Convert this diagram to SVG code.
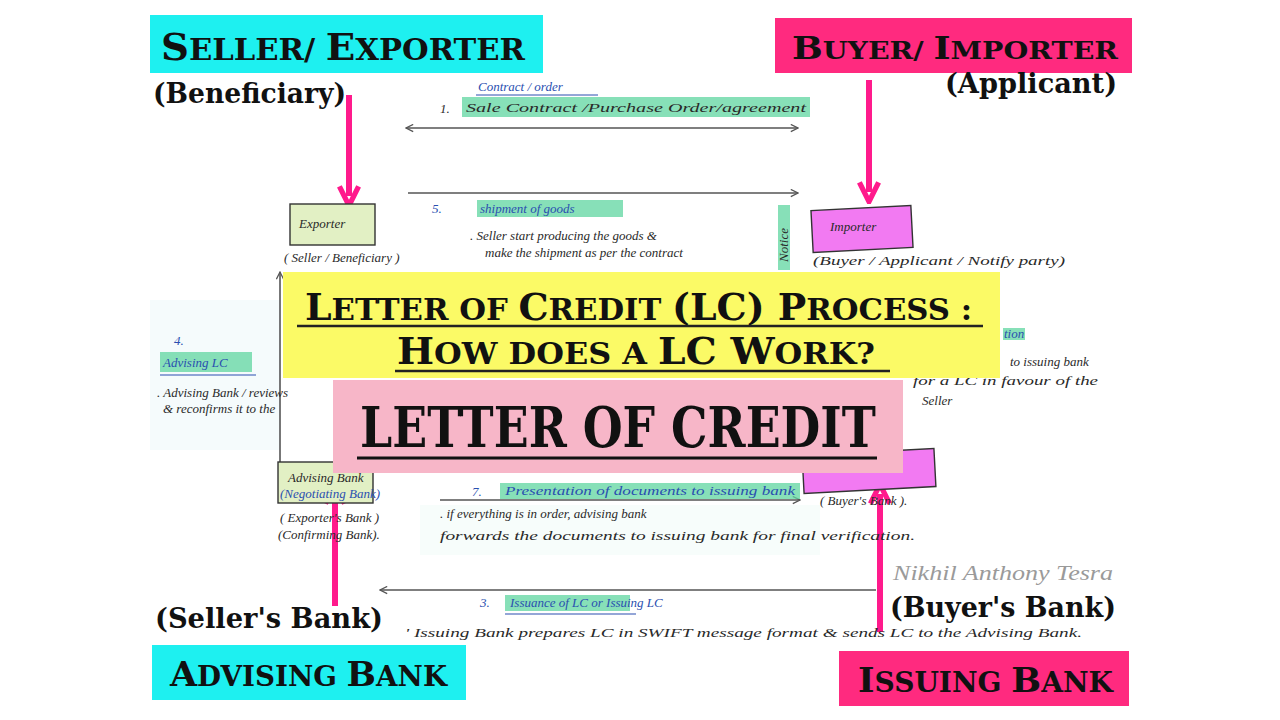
<svg xmlns="http://www.w3.org/2000/svg" width="1280" height="720" viewBox="0 0 1280 720">
<defs>
<style>
.hand{font-family:"Liberation Serif",serif;font-style:italic;fill:#2a2a2a;font-size:13px}
.blue{fill:#2a4fb0}
.hl{fill:#5fd6a0;opacity:0.75}
.pen{stroke:#555;stroke-width:1.6;fill:none}
.slab{font-family:"DejaVu Serif",serif;font-weight:bold;fill:#111}
.paren{font-family:"DejaVu Serif",serif;font-weight:bold;fill:#111;font-size:28px}
.pk{stroke:#ff1a8c;stroke-width:6;fill:none}
</style>
<marker id="open" viewBox="0 0 10 10" refX="9" refY="5" markerWidth="9" markerHeight="9" orient="auto-start-reverse" markerUnits="userSpaceOnUse">
<path d="M1,1 L9,5 L1,9" fill="none" stroke="#555" stroke-width="1.4"/>
</marker>
<marker id="pkhead" viewBox="0 0 10 10" refX="5" refY="5" markerWidth="24" markerHeight="24" orient="auto" markerUnits="userSpaceOnUse">
<path d="M1,1 L9,5 L1,9" fill="none" stroke="#ff1a8c" stroke-width="2.2"/>
</marker>
</defs>
<rect width="1280" height="720" fill="#ffffff"/>
<!-- soft watercolor tint -->
<rect x="150" y="300" width="130" height="150" fill="#eef9fa" opacity="0.6"/>
<rect x="420" y="505" width="400" height="50" fill="#f2fbf8" opacity="0.6"/>

<!-- connectors (hand-drawn) -->
<g id="connectors">
<line class="pen" x1="406" y1="128" x2="798" y2="128" marker-start="url(#open)" marker-end="url(#open)"/>
<line class="pen" x1="408" y1="193" x2="798" y2="193" marker-end="url(#open)"/>
<line class="pen" x1="280" y1="465" x2="280" y2="272" marker-end="url(#open)"/>
<line class="pen" x1="440" y1="500" x2="800" y2="500" marker-end="url(#open)"/>
<line class="pen" x1="876" y1="590" x2="380" y2="590" marker-end="url(#open)"/>
<!-- pink arrows -->
<line class="pk" x1="349" y1="95" x2="349" y2="196" marker-end="url(#pkhead)"/>
<line class="pk" x1="869" y1="80" x2="869" y2="192" marker-end="url(#pkhead)"/>
<line class="pk" x1="335" y1="606" x2="335" y2="494" marker-end="url(#pkhead)"/>
<line class="pk" x1="880" y1="632" x2="880" y2="494" marker-end="url(#pkhead)"/>
</g>

<!-- hand-written annotations -->
<g id="step1">
<text class="hand blue" x="478" y="91" font-size="12">Contract / order</text>
<line x1="476" y1="95" x2="598" y2="95" stroke="#2a4fb0" stroke-width="1"/>
<text class="hand" x="440" y="113" font-size="10">1.</text>
<rect class="hl" x="462" y="97" width="348" height="20"/>
<text class="hand" x="466" y="112" font-size="15" textLength="340" lengthAdjust="spacingAndGlyphs">Sale Contract /Purchase Order/agreement</text>
</g>
<g id="step5">
<text class="hand blue" x="432" y="213" font-size="10">5.</text>
<rect class="hl" x="477" y="200" width="146" height="17"/>
<text class="hand blue" x="480" y="213" font-size="14">shipment of goods</text>
<text class="hand" x="470" y="240" font-size="13">. Seller start producing the goods &amp;</text>
<text class="hand" x="485" y="257" font-size="13">make the shipment    as per the contract</text>
<rect class="hl" x="778" y="205" width="12" height="65"/>
<text class="hand" x="0" y="0" font-size="11" transform="translate(788,262) rotate(-90)">Notice</text>
</g>
<g id="exporter">
<rect x="290" y="204" width="85" height="41" fill="#e2f0c4" stroke="#333" stroke-width="1.4"/>
<text class="hand" x="299" y="228" font-size="15">Exporter</text>
<text class="hand" x="284" y="262" font-size="14">( Seller / Beneficiary )</text>
</g>
<g id="importer">
<rect x="812" y="208" width="100" height="42" fill="#f27af2" stroke="#333" stroke-width="1.4" transform="rotate(-3 862 229)"/>
<text class="hand" x="830" y="231" font-size="16">Importer</text>
<text class="hand" x="813" y="265" font-size="15" textLength="252" lengthAdjust="spacingAndGlyphs">(Buyer / Applicant / Notify party)</text>
</g>
<g id="step4">
<text class="hand blue" x="174" y="345" font-size="10">4.</text>
<rect class="hl" x="160" y="352" width="92" height="20"/>
<line x1="160" y1="375" x2="256" y2="375" stroke="#2a4fb0" stroke-width="1.2"/>
<text class="hand blue" x="163" y="367" font-size="14">Advising LC</text>
<text class="hand" x="157" y="397" font-size="13">. Advising Bank / reviews</text>
<text class="hand" x="163" y="413" font-size="13">&amp; reconfirms   it to the</text>
</g>
<g id="step2">
<rect class="hl" x="1003" y="328" width="22" height="12"/>
<text class="hand blue" x="1004" y="338" font-size="11">tion</text>
<text class="hand" x="1010" y="366" font-size="13">to issuing bank</text>
<text class="hand" x="913" y="385" font-size="12" textLength="185" lengthAdjust="spacingAndGlyphs">for a LC in favour of the</text>
<text class="hand" x="922" y="405" font-size="11">Seller</text>
</g>
<g id="advising-bank">
<rect x="278" y="462" width="95" height="41" fill="#e2f0c4" stroke="#333" stroke-width="1.4"/>
<text class="hand" x="288" y="482" font-size="14">Advising Bank</text>
<text class="hand blue" x="280" y="498" font-size="12">(Negotiating Bank)</text>
<text class="hand" x="280" y="522" font-size="14">( Exporter's Bank )</text>
<text class="hand" x="278" y="539" font-size="14">(Confirming Bank).</text>
</g>
<g id="step7">
<text class="hand blue" x="472" y="496" font-size="12">7.</text>
<rect class="hl" x="500" y="483" width="300" height="16"/>
<text class="hand blue" x="505" y="495" font-size="13" textLength="290" lengthAdjust="spacingAndGlyphs">Presentation of documents to issuing bank</text>
<text class="hand" x="440" y="518" font-size="13">. if everything is in order, advising bank</text>
<text class="hand" x="440" y="540" font-size="14" textLength="475" lengthAdjust="spacingAndGlyphs">forwards  the documents to issuing bank for final verification.</text>
</g>
<g id="issuing-bank">
<rect x="803" y="452" width="132" height="38" fill="#f27af2" stroke="#333" stroke-width="1.4" transform="rotate(-3 869 471)"/>
<text class="hand" x="820" y="505" font-size="14">( Buyer's Bank ).</text>
</g>
<g id="step3">
<text class="hand blue" x="480" y="607" font-size="11">3.</text>
<rect class="hl" x="505" y="595" width="125" height="16"/>
<line x1="505" y1="614" x2="636" y2="614" stroke="#2a4fb0" stroke-width="1.2"/>
<text class="hand blue" x="510" y="607" font-size="12">Issuance of LC or Issuing LC</text>
<text class="hand" x="405" y="637" font-size="14" textLength="677" lengthAdjust="spacingAndGlyphs">' Issuing Bank prepares LC in SWIFT message format &amp; sends LC to the Advising Bank.</text>
</g>
<text x="893" y="580" font-family="Liberation Serif,serif" font-style="italic" font-size="20" fill="#9a9a9a" textLength="220" lengthAdjust="spacingAndGlyphs">Nikhil Anthony Tesra</text>

<!-- overlay labels -->
<g id="seller-exporter">
<rect x="150" y="15" width="393" height="58" fill="#1ef0f0"/>
<text class="slab" x="161" y="60" textLength="364" lengthAdjust="spacingAndGlyphs"><tspan font-size="38">S</tspan><tspan font-size="30">ELLER/ </tspan><tspan font-size="38">E</tspan><tspan font-size="30">XPORTER</tspan></text>
<text class="paren" x="153" y="103" textLength="193" lengthAdjust="spacingAndGlyphs">(Beneficiary)</text>
</g>
<g id="buyer-importer">
<rect x="775" y="18" width="357" height="55" fill="#ff2a7f"/>
<text class="slab" x="792" y="59" textLength="326" lengthAdjust="spacingAndGlyphs"><tspan font-size="32">B</tspan><tspan font-size="25">UYER/ </tspan><tspan font-size="32">I</tspan><tspan font-size="25">MPORTER</tspan></text>
<text class="paren" x="945" y="93" textLength="172" lengthAdjust="spacingAndGlyphs">(Applicant)</text>
</g>
<g id="title">
<rect x="283" y="272" width="717" height="106" fill="#fbfa66"/>
<text class="slab" x="305" y="320" textLength="667" lengthAdjust="spacingAndGlyphs"><tspan font-size="37">L</tspan><tspan font-size="30">ETTER OF </tspan><tspan font-size="37">C</tspan><tspan font-size="30">REDIT </tspan><tspan font-size="37">(LC) P</tspan><tspan font-size="30">ROCESS :</tspan></text>
<line x1="297" y1="326" x2="983" y2="326" stroke="#222" stroke-width="2.5"/>
<text class="slab" x="397" y="364" textLength="478" lengthAdjust="spacingAndGlyphs"><tspan font-size="37">H</tspan><tspan font-size="30">OW  DOES A </tspan><tspan font-size="37">LC W</tspan><tspan font-size="30">ORK?</tspan></text>
<line x1="395" y1="371" x2="890" y2="371" stroke="#222" stroke-width="2.5"/>
</g>
<g id="letter-of-credit">
<rect x="333" y="380" width="570" height="93" fill="#f7b6c8"/>
<text class="slab" x="0" y="0" font-size="56" transform="translate(360,447) scale(0.79,1)" textLength="653" lengthAdjust="spacingAndGlyphs">LETTER OF CREDIT</text>
<line x1="357" y1="458" x2="877" y2="458" stroke="#111" stroke-width="3"/>
</g>
<g id="sellers-bank">
<text class="paren" x="155" y="628" textLength="228" lengthAdjust="spacingAndGlyphs">(Seller's Bank)</text>
</g>
<g id="advising-bank-label">
<rect x="152" y="645" width="314" height="55" fill="#1ef0f0"/>
<text class="slab" x="170" y="686" textLength="277" lengthAdjust="spacingAndGlyphs"><tspan font-size="34">A</tspan><tspan font-size="27">DVISING </tspan><tspan font-size="34">B</tspan><tspan font-size="27">ANK</tspan></text>
</g>
<g id="buyers-bank">
<text class="paren" x="890" y="617" textLength="226" lengthAdjust="spacingAndGlyphs">(Buyer's Bank)</text>
</g>
<g id="issuing-bank-label">
<rect x="839" y="651" width="290" height="55" fill="#ff2a7f"/>
<text class="slab" x="858" y="692" textLength="255" lengthAdjust="spacingAndGlyphs"><tspan font-size="34">I</tspan><tspan font-size="27">SSUING </tspan><tspan font-size="34">B</tspan><tspan font-size="27">ANK</tspan></text>
</g>
</svg>
